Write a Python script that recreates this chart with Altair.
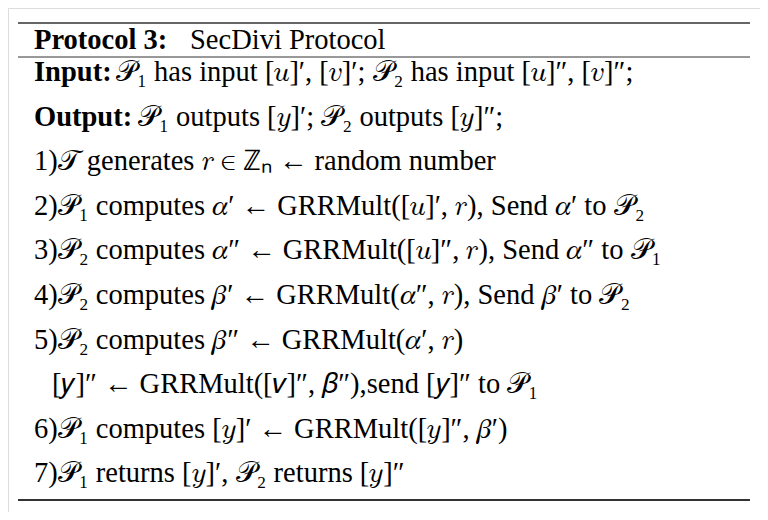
import altair as alt
import pandas as pd

# bold lead-ins and the text that follows them, one entry per line of the box
labels = ["Protocol 3:", "Input:", "Output:", "", "", "", "", "", "", "", ""]
bodies = [
    "SecDivi Protocol",
    "𝒫₁ has input [𝑢]′, [𝑣]′; 𝒫₂ has input [𝑢]″, [𝑣]″;",
    "𝒫₁ outputs [𝑦]′; 𝒫₂ outputs [𝑦]″;",
    "1)𝒯  generates 𝑟 ∈ ℤₙ ← random number",
    "2)𝒫₁ computes 𝛼′ ← GRRMult([𝑢]′, 𝑟), Send 𝛼′ to 𝒫₂",
    "3)𝒫₂ computes 𝛼″ ← GRRMult([𝑢]″, 𝑟), Send 𝛼″ to 𝒫₁",
    "4)𝒫₂ computes 𝛽′ ← GRRMult(𝛼″, 𝑟), Send 𝛽′ to 𝒫₂",
    "5)𝒫₂ computes 𝛽″ ← GRRMult(𝛼′, 𝑟)",
    "[𝑦]″ ← GRRMult([𝑣]″, 𝛽″),send [𝑦]″ to 𝒫₁",
    "6)𝒫₁ computes [𝑦]′ ← GRRMult([𝑦]″, 𝛽′)",
    "7)𝒫₁ returns [𝑦]′, 𝒫₂ returns [𝑦]″",
]
indent = [0, 0, 0, 0, 0, 0, 0, 0, 1, 0, 0]

W, H = 752, 504
FONT = "Liberation Serif"
FS = 28.5
label_w = {"Protocol 3:": 150, "Input:": 76, "Output:": 98, "": 0}

rows = []
for i, (lab, body, ind) in enumerate(zip(labels, bodies, indent)):
    y = 41 if i == 0 else 73 + 44.6 * (i - 1)
    x0 = 26
    rows.append({"lab": lab, "body": body, "y": y, "x0": x0,
                 "x1": x0 + label_w[lab] + (6 if lab else 0) + 18 * ind})
df = pd.DataFrame(rows)

xs = alt.Scale(domain=[0, W], range=[0, W])
ys = alt.Scale(domain=[0, H], range=[0, H])
base = alt.Chart(df)

bold = base.mark_text(font=FONT, fontSize=FS, fontWeight="bold", align="left",
                      baseline="alphabetic", color="black").encode(
    x=alt.X("x0:Q", scale=xs, axis=None), y=alt.Y("y:Q", scale=ys, axis=None),
    text="lab:N")
body = base.mark_text(font=FONT, fontSize=FS, align="left",
                      baseline="alphabetic", color="black").encode(
    x=alt.X("x1:Q", scale=xs, axis=None), y=alt.Y("y:Q", scale=ys, axis=None),
    text="body:N")

rules = pd.DataFrame({"y": [15, 49, 492], "w": [1.5, 1, 2]})
lines = alt.Chart(rules).mark_rule(color="#333").encode(
    x=alt.value(10), x2=alt.value(742),
    y=alt.Y("y:Q", scale=ys, axis=None),
    strokeWidth=alt.StrokeWidth("w:Q", scale=None, legend=None))

chart = (lines + bold + body).properties(
    width=W, height=H, padding=0,
    autosize=alt.AutoSizeParams(type="fit", contains="padding"),
).configure_view(stroke=None).configure(background="white")

chart.save("out.html", embed_options={"renderer": "svg", "actions": False})
